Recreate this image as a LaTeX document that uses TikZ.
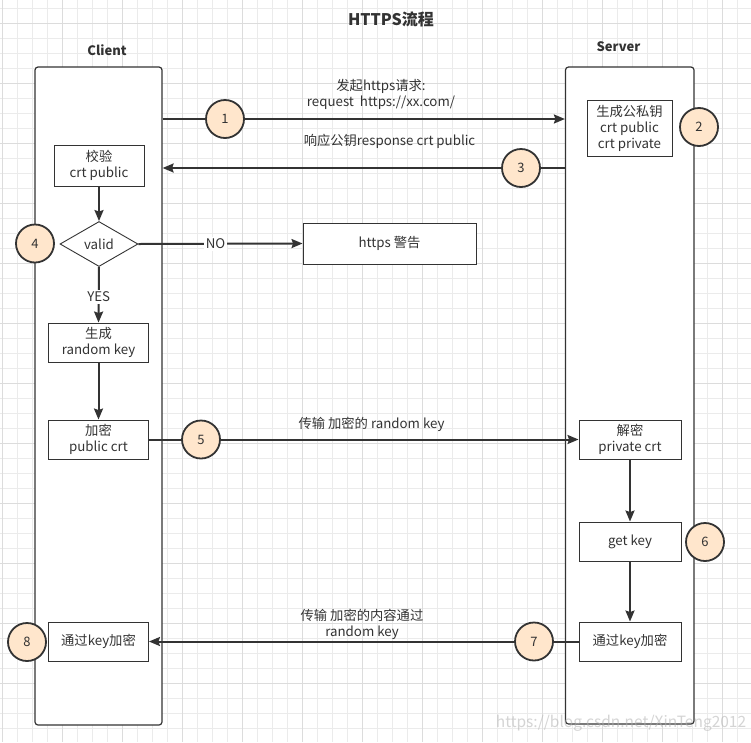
\documentclass[tikz,border=0pt]{standalone}
\usepackage{fontspec}
\setmainfont{Noto Sans CJK SC}
\usetikzlibrary{shapes.geometric,arrows.meta}
\definecolor{ink}{HTML}{333333}
\definecolor{gridminor}{HTML}{EBEBEB}
\definecolor{gridmajor}{HTML}{DCDCDC}
\definecolor{peach}{HTML}{FFE6CC}
\tikzset{
  lane/.style={draw=ink,line width=1.2pt,fill=white,rounded corners=3pt,inner sep=0pt},
  box/.style={draw=ink,line width=0.9pt,fill=white,inner sep=0pt,align=center,text=ink,
    font=\fontsize{13.3}{16}\selectfont},
  num/.style={circle,draw=ink,line width=1.8pt,fill=peach,minimum size=38pt,inner sep=0pt,
    text=ink,font=\fontsize{13}{15}\selectfont},
  lbl/.style={align=center,text=ink,inner sep=1pt,font=\fontsize{13.3}{16}\selectfont},
  head/.style={text=ink,inner sep=0pt,font=\fontsize{13}{16}\selectfont\bfseries},
  conn/.style={draw=ink,line width=2pt},
  arr/.style={conn,-{Stealth[length=11pt,width=9pt,inset=1.5pt]}},
}
\begin{document}
\begin{tikzpicture}[x=1pt,y=-1pt]
\useasboundingbox (0,0) rectangle (751,742);
\fill[white] (0,0) rectangle (751,742);
% grid
\foreach \k in {0,...,49} {\draw[gridminor,line width=0.8pt] ({2+15*\k},0) -- ({2+15*\k},742);}
\foreach \k in {0,...,49} {\draw[gridminor,line width=0.8pt] (0,{8+15*\k}) -- (751,{8+15*\k});}
\foreach \k in {0,...,12} {\draw[gridmajor,line width=0.8pt] ({2+60*\k},0) -- ({2+60*\k},742);}
\foreach \k in {0,...,12} {\draw[gridmajor,line width=0.8pt] (0,{23+60*\k}) -- (751,{23+60*\k});}

% titles
\node[head,font=\fontsize{16}{18}\selectfont\bfseries] (title) at (391,19) {HTTPS流程};
\node[head] (clienthead) at (107,50) {Client};
\node[head] (serverhead) at (618.5,47) {Server};

% lanes
\node[lane,minimum width=127pt,minimum height=658pt] (client) at (98.5,396) {};
\node[lane,minimum width=128.5pt,minimum height=657pt] (server) at (629.75,395.5) {};

% boxes
\node[box,minimum width=85pt,minimum height=56pt] (srvkey) at (629.5,128) {生成公私钥\\crt public\\crt private};
\node[box,minimum width=90pt,minimum height=41pt] (verify) at (99,165.5) {校验\\crt public};
\node[box,diamond,aspect=1.73,minimum width=78pt,minimum height=45pt] (valid) at (99,244) {valid};
\node[box,minimum width=173pt,minimum height=41pt] (warn) at (389.5,243.5) {https 警告};
\node[box,minimum width=100pt,minimum height=39pt] (genkey) at (98.5,342.5) {生成\\random key};
\node[box,minimum width=100pt,minimum height=39pt] (enc) at (98.5,439.5) {加密\\public crt};
\node[box,minimum width=102pt,minimum height=39pt] (dec) at (630,439.5) {解密\\private crt};
\node[box,minimum width=102pt,minimum height=39pt] (getkey) at (630,541.5) {get key};
\node[box,minimum width=102pt,minimum height=39pt] (srvenc) at (630,641.5) {通过key加密};
\node[box,minimum width=100pt,minimum height=39pt] (cliend) at (98.5,641.5) {通过key加密};

% numbered circles
\node[num] (c1) at (225,119) {1};
\node[num] (c2) at (699,127) {2};
\node[num] (c3) at (521,168) {3};
\node[num] (c4) at (35,243.5) {4};
\node[num] (c5) at (201,439.5) {5};
\node[num] (c6) at (705,542) {6};
\node[num] (c7) at (534,641.5) {7};
\node[num] (c8) at (27,642) {8};

% connectors
\draw[conn] (client.east |- c1) -- (c1.west);
\draw[arr] (c1.east) -- (server.west |- c1);
\draw[conn] (server.west |- c3) -- (c3.east);
\draw[arr] (c3.west) -- (client.east |- c3);
\draw[arr] (verify.south) -- (valid.north);
\draw[arr] (valid.east) -- node[lbl,fill=white,inner sep=2pt,pos=0.47] (no) {NO} (warn.west);
\draw[arr] (valid.south) -- node[lbl,fill=white,inner sep=2pt,pos=0.54] (yes) {YES} (genkey.north);
\draw[arr] (genkey.south) -- (enc.north);
\draw[conn] (enc.east) -- (c5.west);
\draw[arr] (c5.east) -- (dec.west);
\draw[arr] (dec.south) -- (getkey.north);
\draw[arr] (getkey.south) -- (srvenc.north);
\draw[conn] (srvenc.west) -- (c7.east);
\draw[arr] (c7.west) -- (cliend.east);

% edge texts
\node[lbl] (l1) at (381,94) {发起https请求:\\request\ \ https://xx.com/};
\node[lbl] (l3) at (389.5,141.5) {响应公钥response crt public};
\node[lbl] (l5) at (371.5,424) {传输 加密的 random key};
\node[lbl] (l7) at (362,624) {传输 加密的内容通过\\random key};

% watermark
\node[text=black!30,opacity=0.55,inner sep=0pt,font=\fontsize{15.5}{18}\selectfont] (wm) at (621,723) {https://blog.csdn.net/XinTeng2012};
\end{tikzpicture}
\end{document}
